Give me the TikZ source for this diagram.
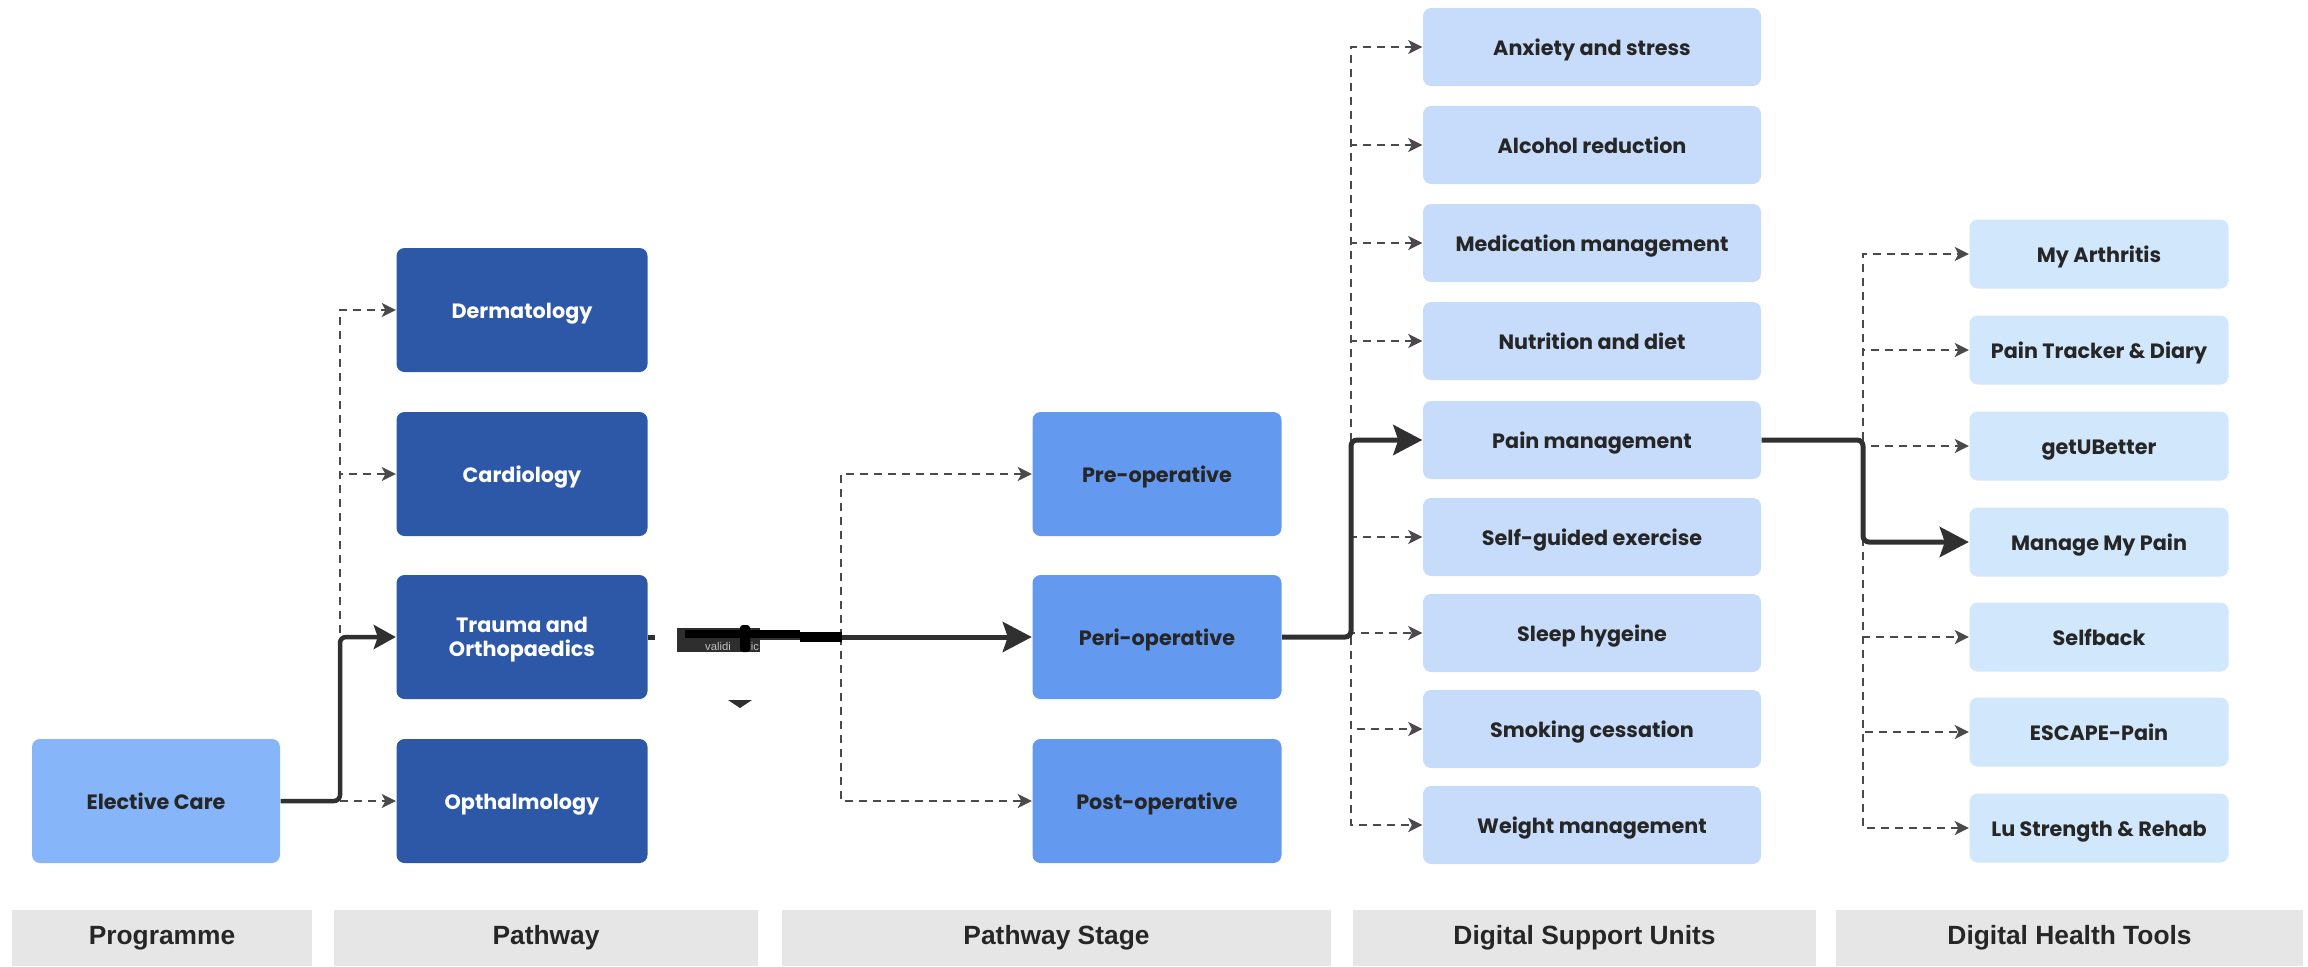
\documentclass[tikz,border=0pt]{standalone}
\usepackage{fontspec}
\setmainfont{Poppins}
\newfontfamily\labfont{Liberation Sans}
\usetikzlibrary{arrows.meta}
\definecolor{ecblue}{HTML}{86B6F9}
\definecolor{pwblue}{HTML}{2D58A8}
\definecolor{stblue}{HTML}{6399EE}
\definecolor{subl}{HTML}{C6DCFA}
\definecolor{toolc}{HTML}{D0E7FC}
\definecolor{barg}{HTML}{E6E6E6}
\definecolor{txt}{HTML}{262626}
\definecolor{ln}{HTML}{303030}
\definecolor{dl}{HTML}{4A4A4A}
\begin{document}
\begin{tikzpicture}[x=0.1mm,y=-0.1mm,
 box/.style={rectangle, rounded corners=0.8mm, inner sep=0pt, align=center, font=\fontsize{5.9}{7.9}\selectfont\bfseries, text=txt, text height=1.72mm, text depth=0mm},
 ecbox/.style={box, fill=ecblue, minimum width=24.8mm, minimum height=12.4mm},
 pwbox/.style={box, fill=pwblue, text=white, minimum width=25.1mm, minimum height=12.4mm},
 stbox/.style={box, fill=stblue, minimum width=24.9mm, minimum height=12.4mm},
 subox/.style={box, fill=subl, minimum width=33.8mm, minimum height=7.8mm},
 tlbox/.style={box, fill=toolc, minimum width=25.9mm, minimum height=6.9mm},
 barbox/.style={rectangle, fill=barg, inner sep=0pt, minimum height=5.6mm, font=\labfont\fontsize{7.5}{9}\selectfont\bfseries, text=txt},
 mainarr/.style={draw=ln, line width=0.5mm, rounded corners=0.6mm, -{Stealth[length=2.9mm,width=3mm,inset=0.5mm]}},
 smallarr/.style={draw=ln, line width=0.45mm, rounded corners=0.6mm, -{Stealth[length=2.2mm,width=2.4mm,inset=0.4mm]}},
 dasharr/.style={draw=dl, line width=0.22mm, dash pattern=on 0.8mm off 0.6mm, -{Stealth[length=1.4mm,width=1.4mm,inset=0.35mm]}},
]
\useasboundingbox (0,0) rectangle (2308,966);

% Programme
\node[ecbox] (ec) at (156,801) {Elective Care};
% Pathway
\node[pwbox] (derm) at (522,310) {Dermatology};
\node[pwbox] (card) at (522,474) {Cardiology};
\node[pwbox, font=\fontsize{5.9}{6.7}\selectfont\bfseries, text height=3.9mm] (trauma) at (522,637) {Trauma and\\Orthopaedics};
\node[pwbox] (opth) at (522,801) {Opthalmology};
% Stage
\node[stbox] (pre) at (1157,474) {Pre-operative};
\node[stbox] (peri) at (1157,637) {Peri-operative};
\node[stbox] (post) at (1157,801) {Post-operative};
% Support units
\node[subox] (anx) at (1592,47) {Anxiety and stress};
\node[subox] (alc) at (1592,145) {Alcohol reduction};
\node[subox] (med) at (1592,243) {Medication management};
\node[subox] (nut) at (1592,341) {Nutrition and diet};
\node[subox] (pain) at (1592,440) {Pain management};
\node[subox] (selfg) at (1592,537) {Self-guided exercise};
\node[subox] (sleep) at (1592,633) {Sleep hygeine};
\node[subox] (smoke) at (1592,729) {Smoking cessation};
\node[subox] (weight) at (1592,825) {Weight management};
% Tools
\node[tlbox] (arth) at (2099,254) {My Arthritis};
\node[tlbox] (track) at (2099,350) {Pain Tracker \& Diary};
\node[tlbox] (getu) at (2099,446) {getUBetter};
\node[tlbox] (manage) at (2099,542) {Manage My Pain};
\node[tlbox] (selfb) at (2099,637) {Selfback};
\node[tlbox] (escape) at (2099,732) {ESCAPE-Pain};
\node[tlbox] (lu) at (2099,828) {Lu Strength \& Rehab};

% Bottom labels
\node[barbox, minimum width=30.0mm] (l1) at (162,938) {Programme};
\node[barbox, minimum width=42.4mm] (l2) at (546,938) {Pathway};
\node[barbox, minimum width=54.9mm] (l3) at (1056.5,938) {Pathway Stage};
\node[barbox, minimum width=46.3mm] (l4) at (1584.5,938) {Digital Support Units};
\node[barbox, minimum width=46.7mm] (l5) at (2069.5,938) {Digital Health Tools};

% Programme -> Pathway
\coordinate (j1) at (340,801);
\draw[dasharr] (j1) |- (derm.west);
\draw[dasharr] (j1) |- (card.west);
\draw[dasharr] (j1) -- (opth.west);
\draw[smallarr] (ec.east) -- (j1) |- (trauma.west);

% Pathway -> Stage
\coordinate (j2) at (841,637);
\draw[dasharr] (j2) |- (pre.west);
\draw[dasharr] (j2) |- (post.west);
\draw[mainarr] (trauma.east) -- (peri.west);
% glitch overlay
\fill[white] (655,626) rectangle (677,652);
\fill[black!82] (677,628) rectangle (760,652);
\fill[black] (685,630) rectangle (800,638);
\fill[black] (800,632) rectangle (842,642);
\fill[black, rounded corners=0.3mm] (740,625) rectangle (750,652);
\node[font=\labfont\fontsize{3.2}{3.2}\selectfont, text=black!25, inner sep=0pt] (gl) at (718,646) {validi};
\node[font=\labfont\fontsize{3.2}{3.2}\selectfont, text=black!25, inner sep=0pt] (gl2) at (755,646) {ic};
\fill[ln] (728,700) -- (752,700) -- (740,708) -- cycle;

% Stage -> Support
\coordinate (j3) at (1351,637);
\foreach \n in {anx,alc,med,nut,selfg,sleep,smoke,weight}
  \draw[dasharr] (j3) |- (\n.west);
\draw[mainarr] (peri.east) -- (j3) |- (pain.west);

% Support -> Tools
\coordinate (j4) at (1863,440);
\foreach \n in {arth,track,getu,selfb,escape,lu}
  \draw[dasharr] (j4) |- (\n.west);
\draw[mainarr] (pain.east) -- (j4) |- (manage.west);
\end{tikzpicture}
\end{document}
